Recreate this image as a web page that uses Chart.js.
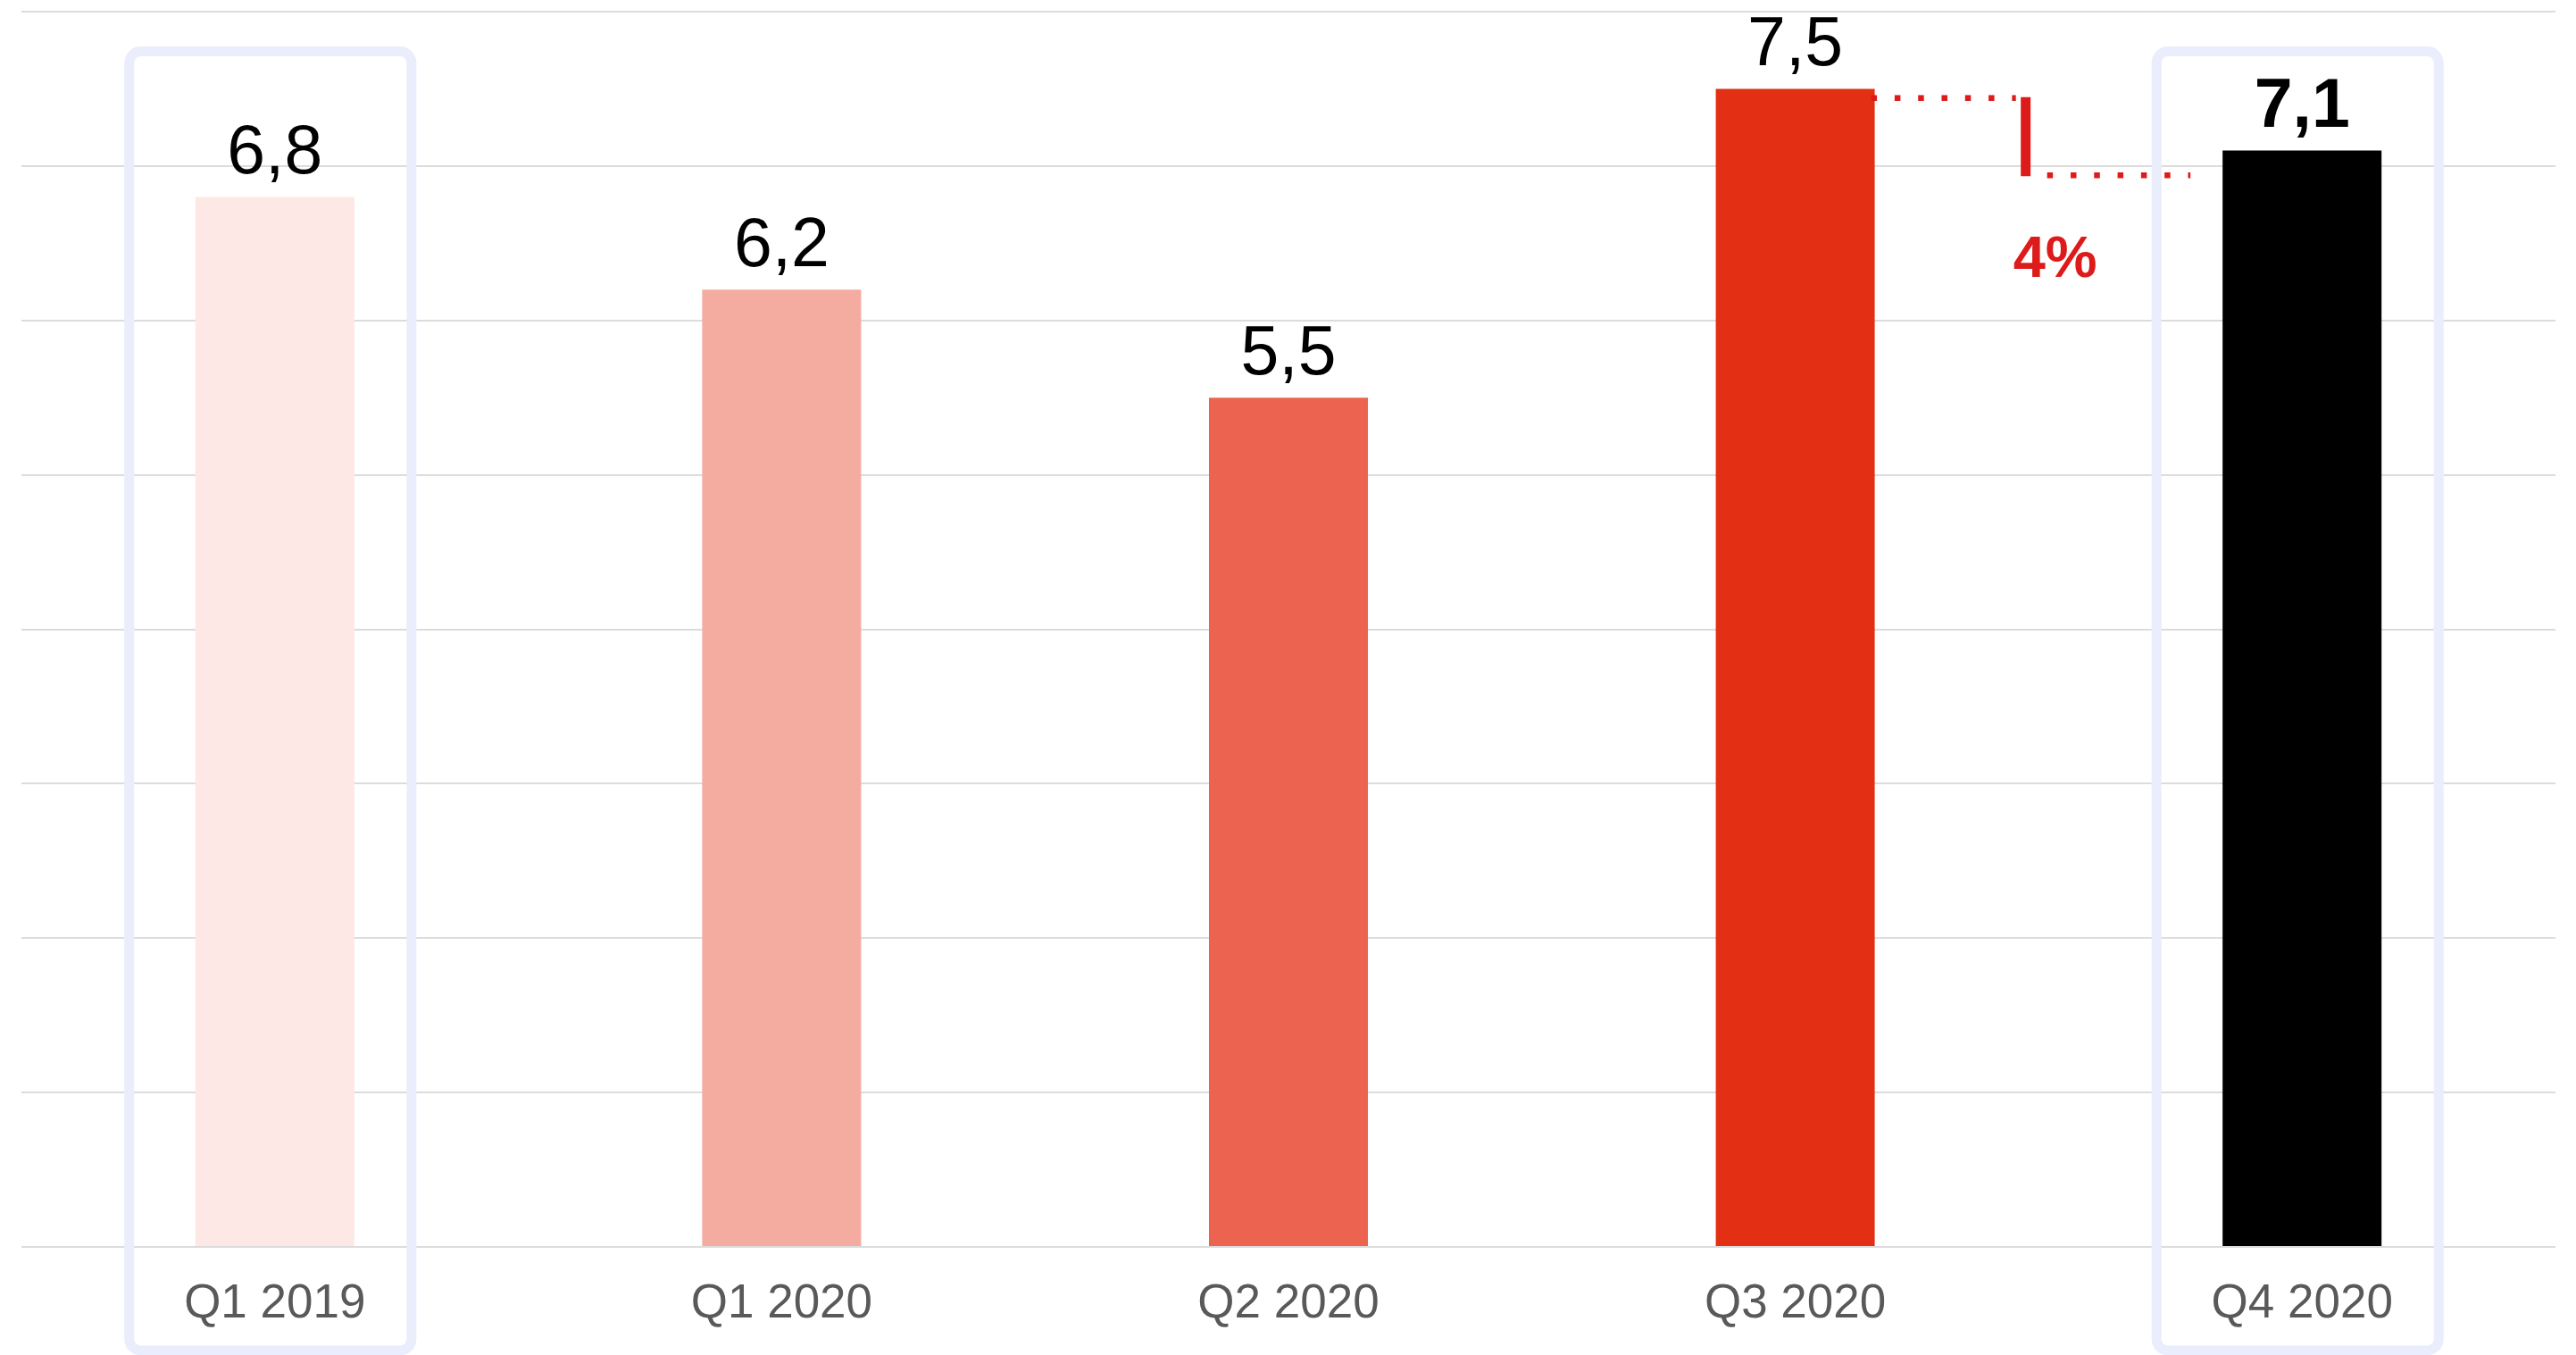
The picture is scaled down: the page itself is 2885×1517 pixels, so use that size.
<!DOCTYPE html>
<html><head><meta charset="utf-8">
<script src="https://cdn.jsdelivr.net/npm/chart.js@4.4.1/dist/chart.umd.min.js"></script>
<style>html,body{margin:0;padding:0;background:#fff;overflow:hidden}#wrap{width:2885px;height:1517px}</style>
</head><body><div id="wrap"><canvas id="c" width="2885" height="1517"></canvas></div>
<script>
// ---- data ----
const categories = ['Q1 2019', 'Q1 2020', 'Q2 2020', 'Q3 2020', 'Q4 2020'];
const values = [6.8, 6.2, 5.5, 7.5, 7.1];
const barColors = ['#fde8e5', '#f4aba0', '#ec6450', '#e32f13', '#000000'];
const highlighted = [true, false, false, false, true];
const boldLabels = [false, false, false, false, true];
const yMin = 0, yMax = 8, yStep = 1;
const changeLabel = '4%';
const changeLevels = [7.44, 6.94];   // upper / lower bracket levels (data units)
const changePair = [3, 4];           // between Q3 2020 and Q4 2020

const FONT = '"Liberation Sans", Arial, sans-serif';
const RED = '#dd1b1b';

const fmt = v => v.toFixed(1).replace('.', ',');

const deco = {
  id: 'deco',
  beforeDatasetsDraw(chart) {
    const ctx = chart.ctx, meta = chart.getDatasetMeta(0);
    ctx.save();
    ctx.strokeStyle = '#e9edfc';
    ctx.lineWidth = 11;
    highlighted.forEach((h, i) => {
      if (!h) return;
      const b = meta.data[i];
      const left = b.x - 0.916 * b.width, right = b.x + 0.86 * b.width;
      const top = chart.chartArea.top + 44.5, bottom = chart.height - 5;
      ctx.beginPath();
      ctx.roundRect(left, top, right - left, bottom - top, 13);
      ctx.stroke();
    });
    ctx.restore();
  },
  afterDatasetsDraw(chart) {
    const ctx = chart.ctx, meta = chart.getDatasetMeta(0), ys = chart.scales.y;
    ctx.save();
    // value labels
    ctx.textAlign = 'center';
    ctx.textBaseline = 'alphabetic';
    ctx.fillStyle = '#000';
    values.forEach((v, i) => {
      const b = meta.data[i];
      ctx.font = (boldLabels[i] ? 'bold ' : '') + '77px ' + FONT;
      ctx.fillText(fmt(v), b.x, b.y - 26.5);
    });
    // change bracket
    const a = meta.data[changePair[0]], c = meta.data[changePair[1]];
    const xStart = a.x + a.width / 2, xEnd = c.x - c.width / 2;
    const vx = xStart + (xEnd - xStart) * 0.434;
    const yA = ys.getPixelForValue(changeLevels[0]);
    const yB = ys.getPixelForValue(changeLevels[1]);
    ctx.strokeStyle = RED;
    ctx.lineCap = 'butt';
    ctx.lineWidth = 6.5;
    ctx.setLineDash([6.5, 19.8]);
    ctx.beginPath();
    ctx.moveTo(xStart - 4, yA); ctx.lineTo(vx - 11, yA);
    ctx.stroke();
    ctx.beginPath();
    ctx.moveTo(vx + 24, yB); ctx.lineTo(xEnd - 36, yB);
    ctx.stroke();
    ctx.setLineDash([]);
    ctx.lineWidth = 11;
    ctx.beginPath();
    ctx.moveTo(vx, yA - 1); ctx.lineTo(vx, yB + 1);
    ctx.stroke();
    ctx.fillStyle = RED;
    ctx.font = 'bold 65px ' + FONT;
    ctx.textAlign = 'center';
    ctx.fillText(changeLabel, vx + 33, yB + 114);
    ctx.restore();
  }
};

new Chart(document.getElementById('c'), {
  type: 'bar',
  data: {
    labels: categories,
    datasets: [{
      data: values,
      backgroundColor: barColors,
      borderWidth: 0,
      categoryPercentage: 1,
      barPercentage: 0.3136
    }]
  },
  options: {
    responsive: false,
    animation: false,
    devicePixelRatio: 1,
    layout: { padding: { top: 13, left: 24, right: 23, bottom: 1 } },
    plugins: { legend: { display: false }, tooltip: { enabled: false } },
    scales: {
      x: {
        grid: { display: false, drawTicks: false },
        border: { display: false },
        ticks: { color: '#595959', font: { family: FONT, size: 53 }, padding: 33 },
        afterFit: s => { s.height = 120; }
      },
      y: {
        min: yMin, max: yMax,
        grid: { color: '#dcdcdc', lineWidth: 2, drawTicks: false },
        border: { display: false },
        ticks: { display: false, stepSize: yStep }
      }
    }
  },
  plugins: [deco]
});
</script>
</body></html>
